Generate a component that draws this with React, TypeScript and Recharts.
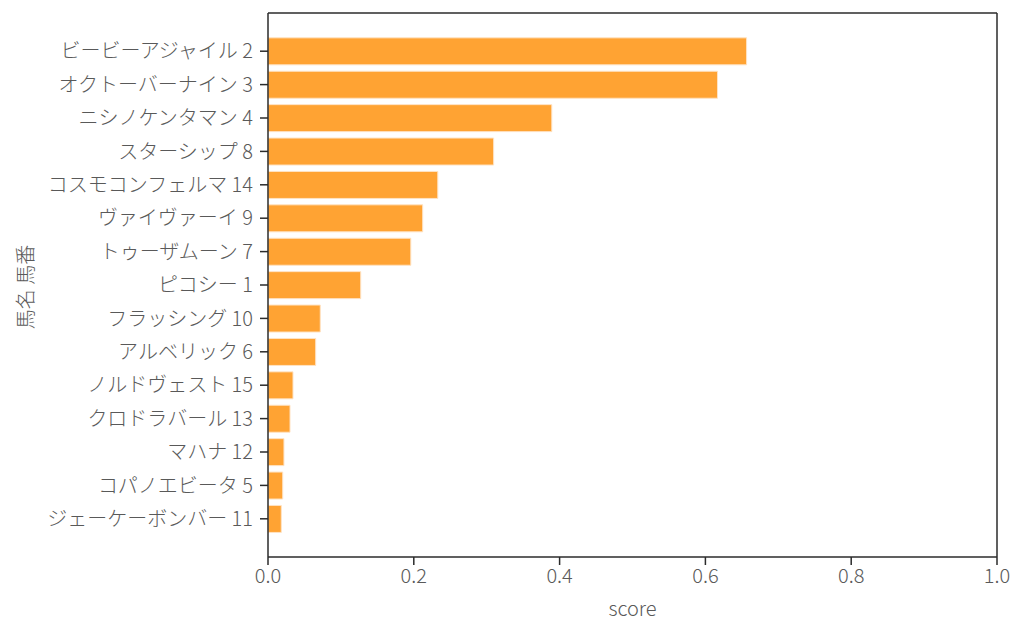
import React from 'react';
import { BarChart, Bar, XAxis, YAxis } from 'recharts';

const horses = [
  'ビービーアジャイル 2',
  'オクトーバーナイン 3',
  'ニシノケンタマン 4',
  'スターシップ 8',
  'コスモコンフェルマ 14',
  'ヴァイヴァーイ 9',
  'トゥーザムーン 7',
  'ピコシー 1',
  'フラッシング 10',
  'アルベリック 6',
  'ノルドヴェスト 15',
  'クロドラバール 13',
  'マハナ 12',
  'コパノエビータ 5',
  'ジェーケーボンバー 11',
];
const scores = [
  0.6565, 0.6166, 0.3893, 0.3095, 0.2329, 0.2122, 0.1959, 0.1272,
  0.0717, 0.0654, 0.0343, 0.0302, 0.0219, 0.0202, 0.0182,
];
const xTicks = [0, 0.2, 0.4, 0.6, 0.8, 1.0];

const data = horses.map((name, i) => ({ name, score: scores[i] }));

const FONT = '"Noto Sans CJK JP", "Noto Sans", sans-serif';
const TEXT = '#595959';
const AXIS = '#2b2b2b';
const FS = 20;

export default function App() {
  return (
    <div style={{ width: 1016, height: 630 }}>
      <BarChart
        width={1016}
        height={630}
        data={data}
        layout="vertical"
        margin={{ top: 4, right: 26, bottom: 11, left: 0 }}
        barCategoryGap="10%"
        style={{ fontFamily: FONT }}
      >
        <XAxis
          type="number"
          dataKey="score"
          domain={[0, 1]}
          ticks={xTicks}
          tickFormatter={(v: number) => v.toFixed(1)}
          height={70}
          tickSize={8}
          tickMargin={4}
          axisLine={{ stroke: AXIS, strokeWidth: 1.5 }}
          tickLine={{ stroke: AXIS, strokeWidth: 1.5 }}
          tick={{ fill: TEXT, fontSize: FS, fontWeight: 300, fontFamily: FONT }}
          label={{
            content: (props: any) => {
              const vb = props.viewBox || {};
              return (
                <text
                  x={vb.x + vb.width / 2}
                  y={599}
                  textAnchor="middle"
                  dominantBaseline="central"
                  fill={TEXT}
                  fontSize={FS}
                  fontWeight={300}
                  fontFamily={FONT}
                >
                  score
                </text>
              );
            },
          }}
        />
        <XAxis
          xAxisId="top"
          orientation="top"
          type="number"
          domain={[0, 1]}
          ticks={xTicks}
          height={1}
          tick={false}
          tickLine={false}
          axisLine={{ stroke: AXIS, strokeWidth: 1.5 }}
        />
        <YAxis
          type="category"
          dataKey="name"
          width={260}
          padding={{ top: 21.5, bottom: 21.5 }}
          tickSize={8}
          tickMargin={7}
          interval={0}
          axisLine={{ stroke: AXIS, strokeWidth: 1.5 }}
          tickLine={{ stroke: AXIS, strokeWidth: 1.5 }}
          tick={{ fill: TEXT, fontSize: FS, fontWeight: 300, fontFamily: FONT }}
          label={{
            content: (props: any) => {
              const vb = props.viewBox || {};
              const cy = vb.y + vb.height / 2 + 2;
              return (
                <text
                  x={16}
                  y={cy}
                  transform={`rotate(-90, 16, ${cy})`}
                  textAnchor="middle"
                  dominantBaseline="central"
                  fill={TEXT}
                  fontSize={FS}
                  fontWeight={300}
                  fontFamily={FONT}
                >
                  馬名 馬番
                </text>
              );
            },
          }}
        />
        <YAxis
          yAxisId="right"
          orientation="right"
          type="category"
          dataKey="name"
          width={1}
          tick={false}
          tickLine={false}
          axisLine={{ stroke: AXIS, strokeWidth: 1.5 }}
        />
        <Bar
          dataKey="score"
          fill="#FFA333"
          stroke="#FFE3C4"
          strokeWidth={1}
          isAnimationActive={false}
        />
      </BarChart>
    </div>
  );
}
